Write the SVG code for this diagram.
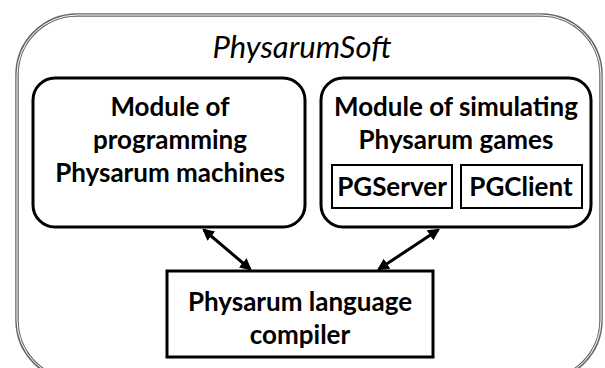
<svg xmlns="http://www.w3.org/2000/svg" width="605" height="368" viewBox="0 0 605 368">
<defs>
<style>
.t{font-family:Lato,"Liberation Sans",sans-serif;font-weight:bold;font-size:26px;fill:#000;text-anchor:middle}
.box{fill:none;stroke:#000;stroke-width:3}
.ibox{fill:none;stroke:#000;stroke-width:2}
.conn{stroke:#000;stroke-width:3;fill:none;marker-start:url(#ah);marker-end:url(#ah)}
</style>
<marker id="ah" viewBox="0 0 10 10" refX="8" refY="5" markerWidth="4" markerHeight="4" orient="auto-start-reverse" markerUnits="strokeWidth">
<path d="M0,0 L10,5 L0,10 z" fill="#000"/>
</marker>
</defs>
<rect width="605" height="368" fill="#fff"/>
<g id="physarumsoft">
<rect x="17" y="15" width="584" height="365" rx="60" ry="60" fill="none" stroke="#666" stroke-width="3.5"/>
<rect x="17" y="15" width="584" height="365" rx="60" ry="60" fill="none" stroke="#fff" stroke-width="1"/>
<text x="302" y="58" class="t" style="font-style:italic;font-size:31px;font-weight:normal">PhysarumSoft</text>
</g>
<g id="module-programming">
<rect x="33" y="78" width="272" height="149" rx="22" ry="22" class="box"/>
<text x="170" y="116" class="t">Module of</text>
<text x="170" y="149" class="t">programming</text>
<text x="170" y="182" class="t">Physarum machines</text>
</g>
<g id="module-simulating">
<rect x="321" y="78" width="270" height="149" rx="22" ry="22" class="box"/>
<text x="456" y="116" class="t">Module of simulating</text>
<text x="456" y="149" class="t">Physarum games</text>
</g>
<g id="pgserver">
<rect x="332" y="165" width="120" height="43" class="ibox"/>
<text x="392" y="196" class="t">PGServer</text>
</g>
<g id="pgclient">
<rect x="461" y="165" width="121" height="43" class="ibox"/>
<text x="521" y="196" class="t">PGClient</text>
</g>
<g id="compiler">
<rect x="167" y="271" width="266" height="86" class="box"/>
<text x="300" y="311" class="t">Physarum language</text>
<text x="300" y="344" class="t">compiler</text>
</g>
<g id="connectors">
<line x1="204" y1="230" x2="250" y2="269" class="conn"/>
<line x1="438" y1="230" x2="379" y2="269" class="conn"/>
</g>
</svg>
